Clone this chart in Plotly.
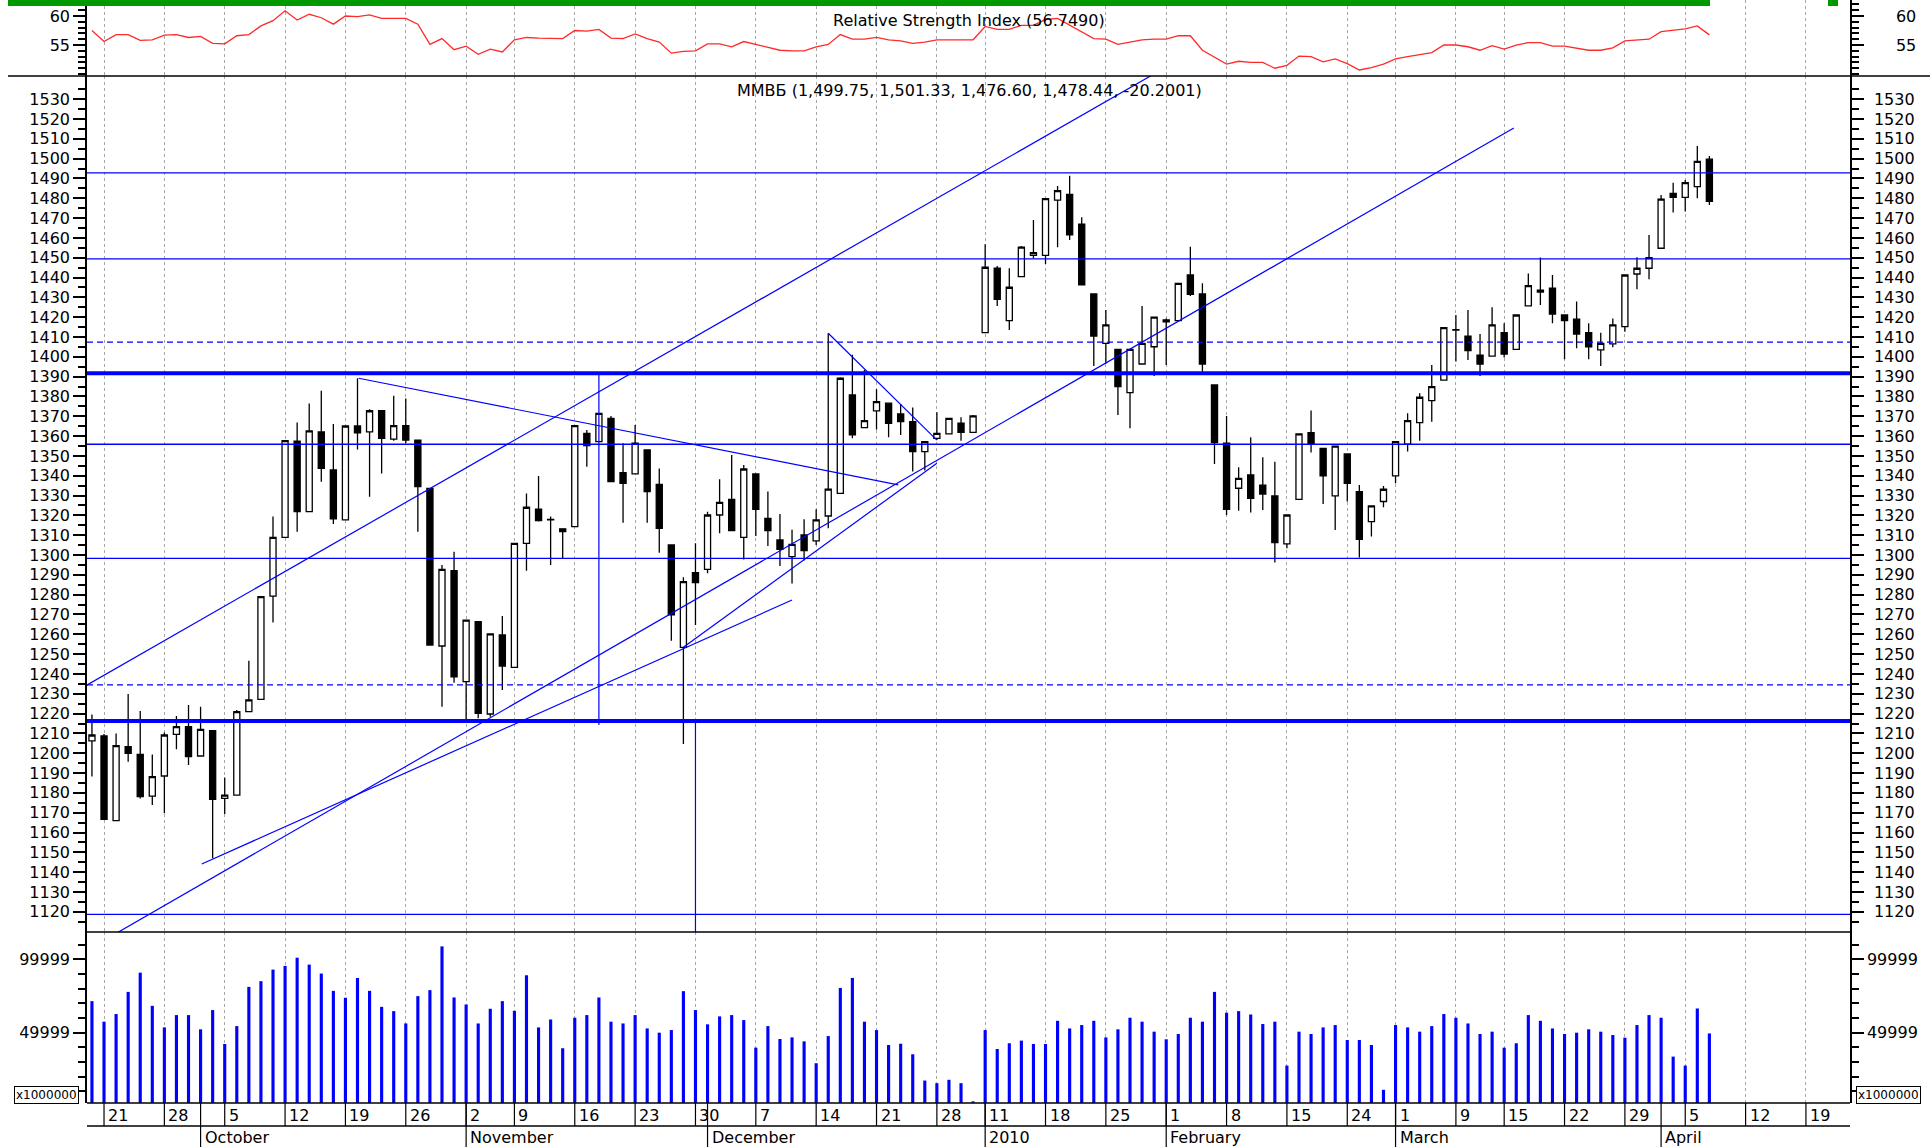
import pandas as pd
import plotly.graph_objects as go

# MICEX trading calendar: weekdays without the holidays, plus the working Saturday 27 Feb 2010
holidays = ["2009-11-04", "2010-01-01", "2010-01-04", "2010-01-05", "2010-01-06",
            "2010-01-07", "2010-01-08", "2010-02-22", "2010-02-23", "2010-03-08"]
extra_days = ["2010-02-27"]
days = pd.bdate_range("2009-09-18", "2010-04-23")
days = days[~days.isin(pd.to_datetime(holidays))].union(pd.to_datetime(extra_days))

month_names = {10: "October", 11: "November", 12: "December", 1: "2010",
               2: "February", 3: "March", 4: "April"}

open_ = [1206.2, 1208.7, 1166.0, 1203.3, 1199.4, 1178.4, 1188.5, 1209.5, 1213.4, 1198.6,
         1211.4, 1177.2, 1178.9, 1221.0, 1227.2, 1279.3, 1308.9, 1357.4, 1321.9, 1362.1,
         1342.9, 1317.7, 1365.1, 1362.1, 1372.8, 1358.5, 1365.3, 1358.0, 1333.6, 1254.1,
         1292.1, 1236.1, 1266.4, 1219.8, 1259.7, 1243.3, 1305.9, 1323.2, 1317.7, 1313.2,
         1314.3, 1361.4, 1357.2, 1369.0, 1341.6, 1340.9, 1353.0, 1335.7, 1305.1, 1253.4,
         1291.1, 1292.8, 1320.2, 1328.1, 1308.9, 1340.9, 1318.5, 1307.6, 1299.2, 1310.1,
         1307.1, 1319.7, 1331.1, 1380.8, 1364.3, 1372.7, 1376.6, 1371.2, 1367.3, 1352.2,
         1358.9, 1361.1, 1366.5, 1361.9, 1412.2, 1444.7, 1418.3, 1440.5, 1451.2, 1451.2,
         1479.1, 1482.0, 1467.0, 1431.7, 1406.8, 1403.8, 1381.9, 1396.4, 1405.1, 1418.6,
         1418.3, 1441.3, 1431.7, 1385.8, 1356.4, 1333.7, 1340.4, 1335.3, 1329.8, 1305.6,
         1328.1, 1361.7, 1353.8, 1329.8, 1351.0, 1332.0, 1316.9, 1327.0, 1339.9, 1356.0,
         1366.8, 1377.9, 1388.3, 1413.5, 1410.5, 1400.9, 1400.4, 1412.2, 1403.8, 1425.7,
         1432.7, 1434.6, 1421.1, 1419.0, 1412.2, 1403.5, 1406.5, 1415.2, 1441.8, 1444.7,
         1454.8, 1482.5, 1480.5, 1485.9, 1499.75]
high = [1219.6, 1209.7, 1210.0, 1229.9, 1221.3, 1199.4, 1210.4, 1218.8, 1224.3, 1223.5,
        1211.4, 1187.8, 1221.8, 1246.7, 1279.0, 1319.4, 1357.7, 1366.9, 1376.5, 1382.9,
        1366.1, 1365.1, 1389.2, 1373.5, 1372.8, 1380.4, 1379.0, 1358.0, 1333.6, 1295.0,
        1301.7, 1267.2, 1266.4, 1260.2, 1269.2, 1305.9, 1331.1, 1339.9, 1319.4, 1313.2,
        1365.3, 1363.1, 1371.5, 1370.2, 1356.4, 1365.6, 1353.0, 1343.7, 1305.1, 1288.8,
        1305.9, 1321.9, 1338.2, 1350.5, 1345.4, 1340.9, 1332.0, 1320.7, 1312.7, 1318.0,
        1323.1, 1411.9, 1389.7, 1401.0, 1393.4, 1383.6, 1376.6, 1376.2, 1374.5, 1357.2,
        1372.0, 1369.0, 1369.5, 1370.7, 1456.8, 1445.8, 1444.7, 1455.9, 1469.1, 1479.8,
        1486.2, 1491.4, 1470.4, 1431.7, 1423.6, 1403.8, 1403.8, 1425.7, 1420.0, 1419.4,
        1437.1, 1455.6, 1437.1, 1385.8, 1370.2, 1344.3, 1359.4, 1349.3, 1347.1, 1320.2,
        1361.1, 1372.9, 1353.8, 1355.0, 1351.0, 1335.3, 1324.8, 1334.8, 1357.2, 1371.5,
        1381.6, 1395.9, 1414.7, 1421.1, 1423.6, 1411.5, 1425.0, 1416.9, 1421.1, 1442.1,
        1450.1, 1441.3, 1421.1, 1427.9, 1416.9, 1412.2, 1419.4, 1441.3, 1450.2, 1461.5,
        1481.7, 1487.9, 1489.2, 1506.4, 1501.33]
low = [1188.2, 1166.3, 1166.0, 1195.7, 1177.2, 1173.9, 1169.7, 1202.0, 1194.1, 1198.3,
       1147.0, 1169.3, 1178.9, 1221.0, 1227.2, 1265.9, 1308.9, 1311.8, 1321.9, 1337.0,
       1315.7, 1317.7, 1353.3, 1329.4, 1341.2, 1357.7, 1356.4, 1311.8, 1254.6, 1223.5,
       1235.6, 1216.8, 1217.6, 1218.4, 1231.9, 1243.3, 1292.1, 1316.9, 1295.0, 1298.4,
       1314.3, 1344.6, 1357.2, 1337.0, 1316.3, 1340.9, 1316.3, 1301.2, 1256.8, 1204.7,
       1264.7, 1290.8, 1311.0, 1312.3, 1297.8, 1309.6, 1304.6, 1294.5, 1285.7, 1297.2,
       1305.1, 1313.5, 1330.8, 1358.9, 1364.3, 1363.4, 1359.4, 1360.6, 1342.1, 1342.6,
       1358.1, 1361.1, 1357.7, 1361.9, 1412.2, 1425.7, 1413.6, 1440.5, 1449.7, 1446.9,
       1455.3, 1459.0, 1436.3, 1395.4, 1396.7, 1370.7, 1364.0, 1396.4, 1390.3, 1395.9,
       1418.3, 1430.7, 1392.5, 1345.9, 1320.2, 1322.4, 1321.4, 1322.7, 1296.2, 1303.4,
       1328.1, 1351.7, 1325.8, 1312.6, 1327.0, 1298.8, 1309.3, 1324.1, 1336.2, 1352.2,
       1357.7, 1367.3, 1388.3, 1397.6, 1398.4, 1390.3, 1400.4, 1399.7, 1403.8, 1425.7,
       1426.2, 1416.9, 1398.8, 1404.3, 1398.8, 1395.4, 1404.8, 1412.7, 1434.1, 1439.1,
       1454.8, 1472.8, 1473.3, 1480.0, 1476.60]
close = [1209.2, 1166.6, 1203.8, 1200.0, 1178.1, 1188.2, 1209.2, 1213.4, 1198.3, 1212.0,
         1176.7, 1178.9, 1221.0, 1226.9, 1279.0, 1308.9, 1357.7, 1321.9, 1362.6, 1343.7,
         1318.3, 1365.1, 1361.7, 1372.8, 1358.9, 1365.3, 1358.0, 1334.5, 1254.6, 1292.8,
         1238.6, 1267.2, 1220.1, 1260.2, 1244.0, 1305.9, 1324.1, 1317.4, 1318.0, 1311.8,
         1365.3, 1355.2, 1371.5, 1337.0, 1336.2, 1356.4, 1332.0, 1313.5, 1269.8, 1286.6,
         1286.1, 1320.2, 1326.6, 1312.3, 1343.4, 1323.1, 1312.3, 1302.9, 1305.4, 1302.2,
         1317.7, 1333.3, 1389.2, 1360.6, 1367.8, 1377.4, 1366.5, 1367.3, 1352.2, 1357.2,
         1361.4, 1369.0, 1361.9, 1370.2, 1445.2, 1429.0, 1435.1, 1455.4, 1452.6, 1479.8,
         1483.9, 1461.5, 1436.3, 1410.5, 1416.1, 1385.0, 1403.8, 1406.8, 1420.0, 1417.6,
         1437.1, 1431.5, 1396.4, 1356.7, 1323.1, 1338.7, 1328.6, 1330.8, 1306.3, 1320.2,
         1361.1, 1356.4, 1339.9, 1355.0, 1336.2, 1307.9, 1324.8, 1333.2, 1357.2, 1367.8,
         1379.6, 1385.0, 1414.7, 1413.7, 1403.1, 1396.4, 1416.1, 1401.4, 1421.1, 1435.9,
         1433.7, 1421.6, 1418.3, 1411.5, 1405.1, 1406.8, 1416.1, 1441.3, 1444.7, 1450.1,
         1479.6, 1480.5, 1487.9, 1498.64, 1478.44]
volume = [71500, 57500, 62700, 77800, 90900, 68300, 53600, 62000, 62000, 52300,
          65400, 42300, 54500, 81200, 85100, 93000, 95500, 101100, 96400, 90300,
          78500, 73800, 87300, 78500, 67600, 64700, 56300, 74900, 79000, 108800,
          74000, 69200, 56300, 66300, 71500, 64900, 89100, 53600, 59000, 39400,
          60200, 62000, 74000, 57500, 56300, 62000, 52900, 50000, 51800, 78300,
          65400, 55700, 61100, 62000, 58600, 39800, 54500, 45700, 46800, 44100,
          29200, 47700, 80500, 87300, 57500, 51800, 41600, 42500, 35300, 17400,
          15600, 17900, 15600, 3200, 51800, 38900, 42800, 44600, 42300, 42300,
          58100, 52900, 55200, 58100, 46800, 52300, 60200, 57500, 50700, 45500,
          49100, 60200, 57500, 77800, 63600, 64700, 62400, 55900, 57500, 27600,
          50700, 49100, 53600, 55200, 45000, 45000, 41600, 11100, 55200, 53600,
          50700, 54500, 62700, 60200, 56300, 49100, 50700, 39800, 42800, 62000,
          58100, 52900, 49100, 50000, 52300, 50700, 48400, 46600, 55200, 62000,
          60200, 33700, 27600, 66500, 49500]
rsi = [57.5, 55.6, 56.8, 56.8, 55.8, 55.9, 56.7, 56.8, 56.3, 56.5,
       55.3, 55.2, 56.6, 56.8, 58.3, 59.2, 60.9, 59.3, 60.3, 59.7,
       58.6, 60.0, 59.9, 60.2, 59.6, 59.6, 59.6, 58.6, 55.1, 56.1,
       54.2, 54.8, 53.4, 54.3, 53.8, 55.9, 56.3, 56.2, 56.1, 56.1,
       57.5, 57.4, 57.7, 56.2, 56.1, 56.9, 56.1, 55.5, 53.6, 53.9,
       54.0, 55.2, 55.2, 54.7, 55.6, 55.1, 54.5, 54.1, 54.0, 54.0,
       54.7, 55.1, 56.8, 56.0, 56.0, 56.3, 55.9, 55.7, 55.3, 55.5,
       55.9, 55.9, 55.9, 55.9, 58.2, 57.7, 57.7, 58.4, 58.4, 59.4,
       59.6, 58.4, 57.2, 56.1, 56.0, 55.1, 55.5, 55.9, 56.0, 56.0,
       56.6, 56.6, 54.1, 52.9, 51.7, 52.2, 52.0, 52.0, 51.0, 51.5,
       53.1, 53.0, 52.1, 52.6, 51.8, 50.7, 51.1, 51.7, 52.6, 53.0,
       53.4, 53.7, 55.0, 55.0, 54.7, 54.1, 54.9, 54.3, 55.0, 55.4,
       55.4, 54.8, 54.8, 54.4, 54.1, 54.1, 54.5, 55.7, 55.8, 56.0,
       57.3, 57.5, 57.8, 58.3, 56.749]

# support / resistance levels (price units)
levels_thin = [1492.8, 1449.4, 1355.9, 1298.3, 1118.7]
levels_dashed = [1407.4, 1234.5]
levels_thick = [1391.7, 1216.3]

# trend lines drawn on the price panel: (start bar, start price) -> (end bar, end price)
trend_x0 = [-0.57, 2.0, 9.1, 49.0, 22.1, 61.0, 42.0, 50.0]
trend_y0 = [1233.9, 1109.1, 1144.1, 1253.5, 1389.2, 1411.9, 1391.7, 1216.3]
trend_x1 = [88.5, 117.8, 58.0, 70.0, 66.8, 70.0, 42.0, 50.0]
trend_y1 = [1544.5, 1515.5, 1277.3, 1346.3, 1335.4, 1358.0, 1214.3, 1105.0]

price_ticks = list(range(1120, 1531, 10))
rsi_ticks = [55, 60]
vol_ticks = [49999, 99999]

title_rsi = "Relative Strength Index (56.7490)"
title_price = "ММВБ (1,499.75, 1,501.33, 1,476.60, 1,478.44, -20.2001)"

W, H = 1930, 1147
ML, MR = 87, 80
PW = W - ML - MR
FONT = "DejaVu Sans"
BLUE = "#0000ff"


def py(px):
    return 1 - px / H


def pxx(px):
    return (px - ML) / PW


n = len(close)
xs = list(range(n))
week_idx = [i for i in range(1, len(days)) if days[i].isocalendar()[1] != days[i - 1].isocalendar()[1]]
month_idx = [i for i in range(1, len(days)) if days[i].month != days[i - 1].month]
xrange_ = [-0.41, 145.65]

fig = go.Figure()

fig.add_trace(go.Scatter(x=xs, y=rsi, mode="lines", line=dict(color="#ff2a2a", width=1.3),
                         xaxis="x", yaxis="y", hoverinfo="skip"))
fig.add_trace(go.Scatter(x=xs, y=rsi, mode="lines", line=dict(width=0), opacity=0,
                         xaxis="x", yaxis="y4", hoverinfo="skip"))

fig.add_trace(go.Candlestick(
    x=xs, open=open_, high=high, low=low, close=close, xaxis="x2", yaxis="y2",
    increasing=dict(line=dict(color="black", width=1.3), fillcolor="white"),
    decreasing=dict(line=dict(color="black", width=1.3), fillcolor="black"),
    whiskerwidth=0, hoverinfo="skip"))
fig.add_trace(go.Scatter(x=xs, y=close, mode="lines", line=dict(width=0), opacity=0,
                         xaxis="x2", yaxis="y5", hoverinfo="skip"))

tx, ty = [], []
for a, b, c, d in zip(trend_x0, trend_y0, trend_x1, trend_y1):
    tx += [a, c, None]
    ty += [b, d, None]
fig.add_trace(go.Scatter(x=tx, y=ty, mode="lines", line=dict(color=BLUE, width=1.2),
                         xaxis="x2", yaxis="y2", hoverinfo="skip"))

fig.add_trace(go.Bar(x=xs, y=volume, width=0.26, marker=dict(color=BLUE, line=dict(width=0)),
                     xaxis="x3", yaxis="y3", hoverinfo="skip"))
fig.add_trace(go.Scatter(x=xs, y=volume, mode="lines", line=dict(width=0), opacity=0,
                         xaxis="x3", yaxis="y6", hoverinfo="skip"))

shapes = []
for lv in levels_thin:
    shapes.append(dict(type="line", xref="x2 domain", yref="y2", x0=0, x1=1, y0=lv, y1=lv,
                       line=dict(color=BLUE, width=1.3)))
for lv in levels_dashed:
    shapes.append(dict(type="line", xref="x2 domain", yref="y2", x0=0, x1=1, y0=lv, y1=lv,
                       line=dict(color=BLUE, width=1.3, dash="6px,4px")))
for lv in levels_thick:
    shapes.append(dict(type="line", xref="x2 domain", yref="y2", x0=0, x1=1, y0=lv, y1=lv,
                       line=dict(color=BLUE, width=4)))

# frame
shapes.append(dict(type="rect", xref="paper", yref="paper", x0=pxx(8), x1=pxx(1710),
                   y0=py(6), y1=1, line=dict(width=0), fillcolor="#009900"))
shapes.append(dict(type="rect", xref="paper", yref="paper", x0=pxx(1828), x1=pxx(1838),
                   y0=py(6), y1=1, line=dict(width=0), fillcolor="#009900"))
shapes.append(dict(type="line", xref="paper", yref="paper", x0=pxx(8), x1=pxx(1930),
                   y0=py(76), y1=py(76), line=dict(color="black", width=1.5)))
for yy in (932, 1103, 1126):
    shapes.append(dict(type="line", xref="paper", yref="paper", x0=0, x1=1,
                       y0=py(yy), y1=py(yy), line=dict(color="black", width=1.5)))

annotations = [
    dict(text=title_rsi, xref="paper", yref="paper", x=pxx(969), y=py(21), showarrow=False,
         xanchor="center", yanchor="middle", font=dict(family=FONT, size=16, color="black")),
    dict(text=title_price, xref="paper", yref="paper", x=pxx(969), y=py(90), showarrow=False,
         xanchor="center", yanchor="middle", font=dict(family=FONT, size=16, color="black")),
]
for xc in (46, 1888):
    annotations.append(dict(text="x1000000", xref="paper", yref="paper", x=pxx(xc), y=py(1095),
                            xanchor="center", yanchor="middle", showarrow=False,
                            font=dict(family=FONT, size=12, color="black"), bordercolor="black",
                            borderwidth=1, borderpad=1, bgcolor="white"))

for i in week_idx:
    shapes.append(dict(type="line", xref="x3", yref="paper", x0=i, x1=i, y0=py(1103), y1=py(1126),
                       line=dict(color="black", width=1.2)))
    annotations.append(dict(text=str(days[i].day), xref="x3", yref="paper", x=i, y=py(1115),
                            xanchor="left", yanchor="middle", xshift=2, showarrow=False,
                            font=dict(family=FONT, size=16, color="black")))
for i in month_idx:
    shapes.append(dict(type="line", xref="x3", yref="paper", x0=i, x1=i, y0=py(1103), y1=0,
                       line=dict(color="black", width=1.2)))
    annotations.append(dict(text=month_names[days[i].month], xref="x3", yref="paper", x=i,
                            y=py(1137), xanchor="left", yanchor="middle", xshift=2, showarrow=False,
                            font=dict(family=FONT, size=16, color="black")))

tickfont = dict(family=FONT, size=16, color="black")
xcommon = dict(range=xrange_, showticklabels=False, ticks="", tickmode="array", tickvals=week_idx,
               showgrid=True, gridcolor="#a8a8a8", gridwidth=1, griddash="3px,3px",
               zeroline=False, showline=False, fixedrange=True)


def yax(domain, rng, side, standoff, tickvals, minor, **kw):
    d = dict(domain=domain, range=rng, side=side, ticks="outside", ticklen=12, tickwidth=1.5,
             tickcolor="black", showline=True, linecolor="black", linewidth=1.5, showgrid=False,
             zeroline=False, tickfont=tickfont, ticklabelstandoff=standoff,
             tickmode="array", tickvals=tickvals, ticktext=[str(v) for v in tickvals], minor=minor)
    d.update(kw)
    return d


rsi_dom = [py(76), 1]
price_dom = [py(932), py(76)]
vol_dom = [py(1103), py(932)]
rsi_rng = [49.66, 62.76]
price_rng = [1109.8, 1541.7]
vol_rng = [2100, 118600]
rsi_minor = dict(ticks="outside", ticklen=7, tickwidth=1.5, tickcolor="black",
                 tickmode="array", tickvals=list(range(50, 63)))
price_minor = dict(ticks="outside", ticklen=7, tickwidth=1.5, tickcolor="black",
                   tickmode="array", tickvals=list(range(1115, 1541, 10)))
vol_minor = dict(ticks="outside", ticklen=7, tickwidth=1.5, tickcolor="black",
                 tickmode="array", tickvals=[9999 + 10000 * k for k in range(12)])

fig.update_layout(
    width=W, height=H, margin=dict(l=ML, r=MR, t=0, b=0),
    paper_bgcolor="white", plot_bgcolor="white", showlegend=False,
    font=dict(family=FONT, size=16, color="black"), boxgap=0.28,
    xaxis=dict(anchor="y", domain=[0, 1], **xcommon),
    xaxis2=dict(anchor="y2", domain=[0, 1], rangeslider=dict(visible=False), **xcommon),
    xaxis3=dict(anchor="y3", domain=[0, 1], **xcommon),
    yaxis=yax(rsi_dom, rsi_rng, "left", 0, rsi_ticks, rsi_minor, anchor="x"),
    yaxis4=yax(rsi_dom, rsi_rng, "right", 29, rsi_ticks, rsi_minor, anchor="x", overlaying="y"),
    yaxis2=yax(price_dom, price_rng, "left", 0, price_ticks, price_minor, anchor="x2"),
    yaxis5=yax(price_dom, price_rng, "right", 7, price_ticks, price_minor, anchor="x2", overlaying="y2"),
    yaxis3=yax(vol_dom, vol_rng, "left", 0, vol_ticks, vol_minor, anchor="x3"),
    yaxis6=yax(vol_dom, vol_rng, "right", 0, vol_ticks, vol_minor, anchor="x3", overlaying="y3"),
    shapes=shapes, annotations=annotations,
)

fig.write_html("out.html", config={"displayModeBar": False},
               post_script="document.body.style.margin='0px';"
                           "document.body.style.overflow='hidden';")
